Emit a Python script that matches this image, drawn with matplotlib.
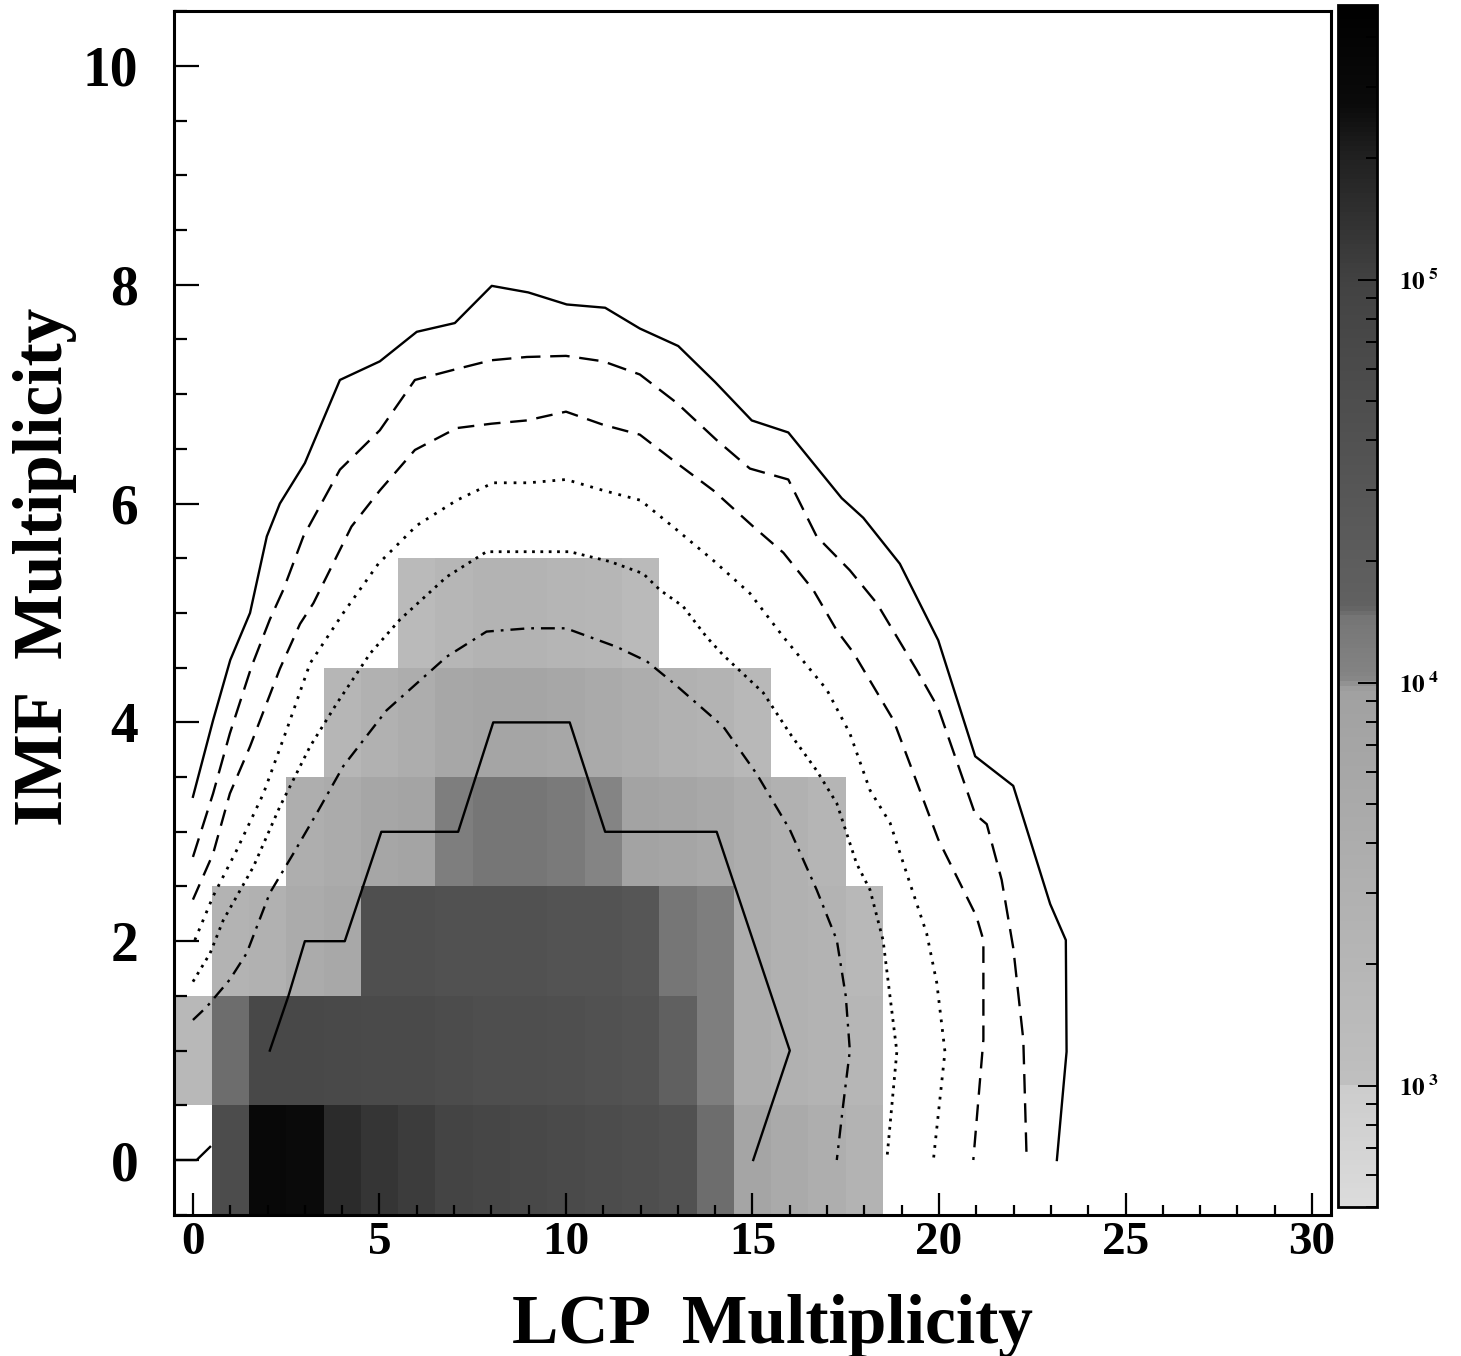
import numpy as np
import matplotlib
matplotlib.use("Agg")
import matplotlib.pyplot as plt
from matplotlib.colors import LogNorm, LinearSegmentedColormap
from matplotlib.ticker import MultipleLocator, LogLocator, NullFormatter

plt.rcParams["font.family"] = ["Liberation Serif", "DejaVu Serif"]
plt.rcParams["font.weight"] = "bold"
plt.rcParams["mathtext.fontset"] = "stix"
plt.rcParams["lines.scale_dashes"] = False

# --- histogram counts, one list per IMF multiplicity, LCP = 0..18 ---
lcp = list(range(19))
imf = list(range(6))
imf0 = [0, 5.5e4, 3.2e5, 2.8e5, 1.6e5, 1.3e5, 1.1e5, 9e4, 8e4, 7e4, 6e4, 5.5e4, 5e4, 4e4, 1.5e4, 7e3, 5e3, 3.5e3, 2.5e3]
imf1 = [1.8e3, 1.5e4, 7e4, 7e4, 6.5e4, 6e4, 6e4, 5.5e4, 5e4, 5e4, 4.5e4, 4e4, 3.5e4, 1.6e4, 1.2e4, 4e3, 3e3, 2.5e3, 2e3]
imf2 = [0, 2.5e3, 3e3, 4.5e3, 5.5e3, 4.5e4, 4.5e4, 4e4, 4e4, 4e4, 3.5e4, 3.5e4, 3e4, 1.4e4, 1.2e4, 4e3, 3e3, 2.5e3, 1.8e3]
imf3 = [0, 0, 0, 3.5e3, 4.5e3, 6.5e3, 7.5e3, 1.2e4, 1.4e4, 1.4e4, 1.3e4, 1.05e4, 8e3, 7e3, 5.5e3, 4e3, 3e3, 2.2e3, 0]
imf4 = [0, 0, 0, 0, 2e3, 3e3, 4e3, 6e3, 7e3, 7e3, 6e3, 5e3, 4e3, 3e3, 2.5e3, 1.8e3, 0, 0, 0]
imf5 = [0, 0, 0, 0, 0, 0, 1.5e3, 2e3, 2.5e3, 2.5e3, 2.2e3, 2e3, 1.5e3, 0, 0, 0, 0, 0, 0]

# --- contour lines (LCP, IMF) ---
solid_out_x = [0.0, 0.54, 1.0, 1.53, 1.98, 2.33, 3.0, 3.94, 5.01, 6.0, 7.02, 8.01, 8.99, 10.02, 11.05, 11.98,
               13.01, 14.0, 14.98, 15.96, 17.39, 17.97, 18.95, 19.98, 20.97, 21.99, 22.98, 23.4, 23.42, 23.16]
solid_out_y = [3.32, 4.02, 4.57, 5.0, 5.7, 6.0, 6.37, 7.13, 7.3, 7.57, 7.65, 7.99, 7.93, 7.82, 7.79, 7.6,
               7.44, 7.11, 6.76, 6.65, 6.05, 5.87, 5.45, 4.75, 3.69, 3.42, 2.34, 2.01, 0.99, 0.0]

dash_out_x = [0.0, 0.54, 0.99, 1.57, 2.06, 2.42, 2.96, 3.94, 5.01, 5.95, 7.07, 8.0, 8.95, 10.0, 11.0, 11.98,
              12.97, 14.04, 14.93, 15.96, 16.72, 17.61, 18.33, 19.4, 19.98, 20.97, 21.28, 21.68, 21.99, 22.26, 22.35]
dash_out_y = [2.77, 3.35, 3.9, 4.51, 4.94, 5.21, 5.7, 6.31, 6.67, 7.13, 7.23, 7.31, 7.34, 7.35, 7.3, 7.18,
              6.92, 6.58, 6.32, 6.22, 5.7, 5.39, 5.09, 4.48, 4.13, 3.16, 3.07, 2.56, 1.94, 1.1, 0.0]

dash_in_x = [0.0, 0.54, 0.99, 1.53, 2.33, 2.87, 3.23, 4.25, 5.01, 5.95, 7.07, 8.0, 8.95, 10.0, 11.0, 11.98,
             12.97, 13.95, 15.02, 15.83, 16.63, 17.26, 17.7, 18.78, 19.98, 21.0, 21.19, 21.19, 20.92]
dash_in_y = [2.38, 2.8, 3.35, 3.78, 4.49, 4.9, 5.09, 5.79, 6.12, 6.49, 6.69, 6.73, 6.76, 6.84, 6.72, 6.63,
             6.37, 6.12, 5.79, 5.55, 5.21, 4.84, 4.64, 4.02, 2.93, 2.23, 2.01, 1.1, 0.0]

dot_out_x = [0.05, 0.54, 1.17, 1.89, 2.51, 3.14, 4.03, 4.97, 6.0, 7.07, 8.05, 9.0, 10.0, 11.0, 12.0, 12.97,
             13.95, 14.93, 15.83, 16.99, 17.61, 18.15, 18.69, 19.22, 19.67, 19.94, 20.16, 19.85]
dot_out_y = [2.01, 2.41, 2.83, 3.35, 3.93, 4.54, 5.0, 5.45, 5.8, 6.03, 6.19, 6.19, 6.22, 6.12, 6.03, 5.76,
             5.48, 5.18, 4.78, 4.3, 3.9, 3.38, 3.08, 2.53, 2.07, 1.62, 0.99, 0.0]

dot_in_x = [0.0, 0.46, 0.81, 1.62, 2.33, 3.14, 3.85, 4.75, 5.55, 6.8, 7.87, 10.1, 11.18, 12.07, 12.52, 13.14,
            13.77, 14.2, 15.29, 16.0, 16.72, 17.26, 17.79, 18.15, 18.5, 18.87, 18.6]
dot_in_y = [1.63, 1.89, 2.19, 2.68, 3.23, 3.78, 4.17, 4.63, 4.94, 5.33, 5.56, 5.56, 5.47, 5.36, 5.21, 5.06,
            4.78, 4.62, 4.27, 3.9, 3.56, 3.26, 2.71, 2.47, 2.01, 0.99, 0.0]

dashdot_x = [0.0, 0.37, 0.99, 1.44, 2.06, 2.69, 3.32, 4.03, 5.19, 6.8, 7.87, 9.0, 10.0, 10.64, 11.36, 12.16,
             12.88, 14.22, 15.11, 16.0, 16.72, 17.26, 17.5, 17.61, 17.43, 17.26]
dashdot_y = [1.28, 1.4, 1.65, 1.89, 2.44, 2.8, 3.17, 3.6, 4.11, 4.6, 4.83, 4.86, 4.86, 4.78, 4.69, 4.56,
             4.36, 3.96, 3.53, 3.02, 2.47, 2.01, 1.5, 1.0, 0.5, 0.0]

# inner step contour; nan splits off the small piece in the empty corner bin
step_x = [15.02, 16.0, 14.04, 11.05, 10.1, 8.05, 7.11, 5.05, 4.07, 3.0, 2.56, 2.06, float("nan"), 0.46, 0.1, -0.48]
step_y = [0.0, 1.0, 3.0, 3.0, 4.0, 4.0, 3.0, 3.0, 2.0, 2.0, 1.5, 1.0, float("nan"), 0.12, 0.0, 0.0]

# grey palette, light for low counts, black for the highest
grey_stops = [(0.0, 0.86), (0.10, 0.80), (0.102, 0.75), (0.43, 0.63), (0.44, 0.52),
              (0.49, 0.46), (0.50, 0.38), (0.77, 0.26), (0.88, 0.12), (0.92, 0.04), (1.0, 0.0)]
cmap = LinearSegmentedColormap.from_list("paw_grey", [(t, (g, g, g)) for t, g in grey_stops])
norm = LogNorm(vmin=500, vmax=4.8e5)

counts = np.array([imf0, imf1, imf2, imf3, imf4, imf5], dtype=float)
counts = np.ma.masked_less_equal(counts, 0)
x_edges = np.arange(len(lcp) + 1) - 0.5
y_edges = np.arange(len(imf) + 1) - 0.5

fig = plt.figure(figsize=(14.61, 13.56), dpi=100)
ax = fig.add_axes([0.1193, 0.1042, 0.7915, 0.8875])
mesh = ax.pcolormesh(x_edges, y_edges, counts, cmap=cmap, norm=norm, shading="flat")

ax.plot(solid_out_x, solid_out_y, color="black", lw=1.7, ls="-")
ax.plot(dash_out_x, dash_out_y, color="black", lw=1.7, ls=(0, (14, 7)))
ax.plot(dash_in_x, dash_in_y, color="black", lw=1.7, ls=(0, (12, 7)))
ax.plot(dot_out_x, dot_out_y, color="black", lw=2.0, ls=(0, (2, 5)))
ax.plot(dot_in_x, dot_in_y, color="black", lw=2.0, ls=(0, (2, 4)))
ax.plot(dashdot_x, dashdot_y, color="black", lw=1.7, ls=(0, (10, 5, 2, 5)))
ax.plot(step_x, step_y, color="black", lw=1.7, ls="-")

ax.set_xlim(-0.5, 30.5)
ax.set_ylim(-0.5, 10.5)
ax.xaxis.set_major_locator(MultipleLocator(5))
ax.xaxis.set_minor_locator(MultipleLocator(1))
ax.yaxis.set_major_locator(MultipleLocator(2))
ax.yaxis.set_minor_locator(MultipleLocator(0.5))
ax.tick_params(axis="both", which="both", direction="in", top=False, right=False, width=1.6)
ax.tick_params(axis="y", which="major", length=18, labelsize=40, pad=26)
ax.tick_params(axis="y", which="minor", length=9)
ax.tick_params(axis="x", which="major", length=16, labelsize=34, pad=5)
ax.tick_params(axis="x", which="minor", length=7)
for lab in ax.get_xticklabels() + ax.get_yticklabels():
    lab.set_fontweight("bold")
for sp in ax.spines.values():
    sp.set_linewidth(2.2)

fig.text(0.5284, 0.0096, "LCP  Multiplicity", fontsize=50, fontweight="bold",
         ha="center", va="baseline")
fig.text(0.031, 0.582, "IMF  Multiplicity", fontsize=50, fontweight="bold",
         ha="center", va="center", rotation=90)

# colour scale on the right
cax = fig.add_axes([0.9155, 0.1099, 0.0267, 0.8864])
cb = fig.colorbar(mesh, cax=cax)
cb.outline.set_linewidth(2.0)
cb.set_ticks([1e3, 1e4, 1e5])
cb.set_ticklabels([r"$\mathbf{10}^{\ \mathbf{3}}$", r"$\mathbf{10}^{\ \mathbf{4}}$", r"$\mathbf{10}^{\ \mathbf{5}}$"])
cax.yaxis.set_minor_locator(LogLocator(base=10, subs=range(2, 10)))
cax.yaxis.set_minor_formatter(NullFormatter())
cax.tick_params(which="both", direction="in", right=True, left=False, width=1.4)
cax.tick_params(which="major", length=14, labelsize=18, pad=16)
cax.tick_params(which="minor", length=8)

fig.savefig("out.png", dpi=100)
